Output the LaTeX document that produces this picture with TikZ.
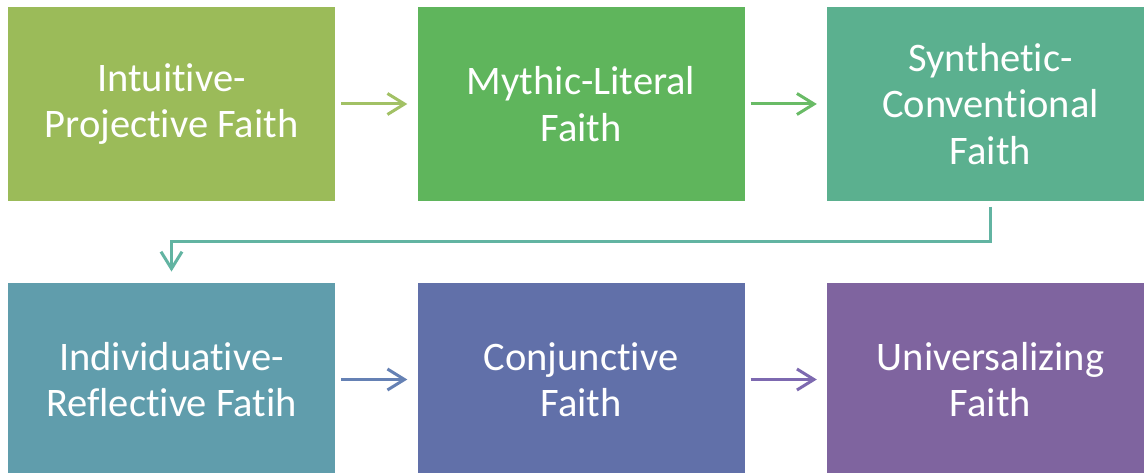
\documentclass[tikz,border=0pt]{standalone}
\usepackage{fontspec}
\setmainfont[Ligatures={NoCommon}]{Carlito}
\usetikzlibrary{arrows.meta}

\definecolor{cA}{HTML}{9BBB59}
\definecolor{cB}{HTML}{5FB55C}
\definecolor{cC}{HTML}{5BB08F}
\definecolor{cD}{HTML}{609DAC}
\definecolor{cE}{HTML}{6170A9}
\definecolor{cF}{HTML}{7F649F}
\definecolor{aA}{HTML}{A2C165}
\definecolor{aB}{HTML}{69BB66}
\definecolor{aC}{HTML}{62B4A2}
\definecolor{aD}{HTML}{6581B4}
\definecolor{aE}{HTML}{7D69B0}

\tikzset{
  stage/.style={rectangle, draw=none, minimum width=327pt, minimum height=193.5pt,
    inner sep=0pt, text=white, align=center,
    font=\fontsize{40.5}{46.5}\selectfont},
  flow/.style={line width=3pt, -{Straight Barb[length=17pt,width=21pt,line width=3pt]},
    shorten <=6pt, shorten >=10pt}
}

\begin{document}
\begin{tikzpicture}[x={(1pt,0)}, y={(0,-1pt)}]
  \useasboundingbox (0,0) rectangle (1144,473);
  \clip (0,0) rectangle (1144,473);
  \fill[white] (0,0) rectangle (1144,473);

  % first row of stages
  \node[stage, fill=cA] (s1) at (171.5,104) {Intuitive-\\Projective Faith};
  \node[stage, fill=cB] (s2) at (581,104) {Mythic-Literal\\Faith};
  \node[stage, fill=cC] (s3) at (990.5,104) {Synthetic-\\Conventional\\Faith};

  % second row of stages
  \node[stage, fill=cD] (s4) at (171.5,379.5) {Individuative-\\Reflective Fatih};
  \node[stage, fill=cE] (s5) at (581,379.5) {Conjunctive\\Faith};
  \node[stage, fill=cF] (s6) at (990.5,379.5) {Universalizing\\Faith};

  % connectors
  \draw[flow, aA] (s1) -- (s2);
  \draw[flow, aB] (s2) -- (s3);
  \coordinate (turn) at (0,241.7);
  \draw[flow, aC, shorten >=11pt] (s3.south) -- (s3.south |- turn) -- (s4.north |- turn) -- (s4.north);
  \draw[flow, aD] (s4) -- (s5);
  \draw[flow, aE] (s5) -- (s6);
\end{tikzpicture}
\end{document}
